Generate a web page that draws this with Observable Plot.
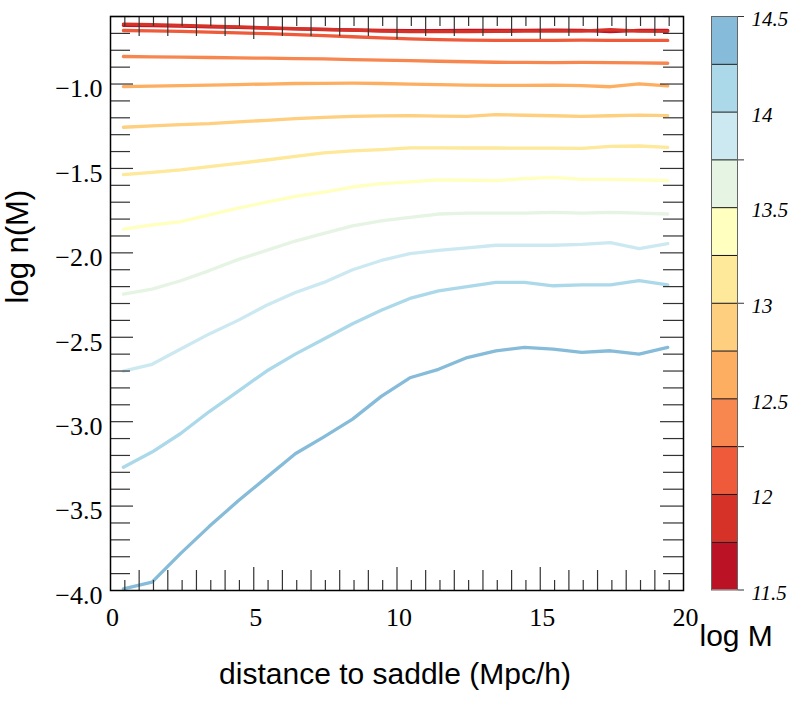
<!DOCTYPE html>
<html>
<head>
<meta charset="utf-8">
<script src="https://cdn.jsdelivr.net/npm/d3@7"></script>
<script src="https://cdn.jsdelivr.net/npm/@observablehq/plot@0.6"></script>
<style>
  html, body { margin: 0; padding: 0; background: #fff; }
  #wrap { position: relative; width: 789px; height: 701px; }
  #wrap svg { position: absolute; top: 0; }
</style>
</head>
<body>
<div id="wrap"></div>
<script>
// ---- data ----
const distance = [0.45, 1.45, 2.45, 3.45, 4.45, 5.45, 6.45, 7.45, 8.45, 9.45,
                  10.45, 11.45, 12.45, 13.45, 14.45, 15.45, 16.45, 17.45, 18.45, 19.45];

const logMEdges = [11.5, 11.75, 12.0, 12.25, 12.5, 12.75, 13.0, 13.25, 13.5, 13.75, 14.0, 14.25, 14.5];
const binColors = ["#bc1226", "#d73227", "#ee5a3a", "#f7864f", "#fdae61", "#fecf7e",
                   "#fee89a", "#ffffc0", "#e6f4e4", "#cce9f2", "#abd9e9", "#86bcd9"];

const nBin1  = [-0.652, -0.654, -0.657, -0.661, -0.665, -0.669, -0.673, -0.677, -0.680, -0.683, -0.684, -0.684, -0.683, -0.682, -0.682, -0.681, -0.682, -0.690, -0.682, -0.683];
const nBin2  = [-0.645, -0.648, -0.652, -0.657, -0.662, -0.667, -0.672, -0.676, -0.681, -0.686, -0.689, -0.690, -0.689, -0.688, -0.687, -0.686, -0.687, -0.678, -0.687, -0.688];
const nBin3  = [-0.683, -0.685, -0.688, -0.692, -0.697, -0.702, -0.707, -0.713, -0.720, -0.727, -0.733, -0.737, -0.740, -0.742, -0.741, -0.741, -0.740, -0.741, -0.742, -0.742];
const nBin4  = [-0.837, -0.839, -0.841, -0.843, -0.845, -0.847, -0.849, -0.851, -0.855, -0.858, -0.861, -0.865, -0.868, -0.871, -0.872, -0.873, -0.872, -0.873, -0.875, -0.877];
const nBin5  = [-1.015, -1.012, -1.010, -1.007, -1.003, -1.000, -0.997, -0.996, -0.995, -0.997, -1.000, -1.003, -1.007, -1.008, -1.008, -1.006, -1.010, -1.016, -0.999, -1.011];
const nBin6  = [-1.256, -1.248, -1.240, -1.234, -1.224, -1.215, -1.205, -1.197, -1.191, -1.189, -1.187, -1.190, -1.192, -1.181, -1.185, -1.188, -1.192, -1.188, -1.184, -1.187];
const nBin7  = [-1.537, -1.523, -1.509, -1.489, -1.470, -1.450, -1.428, -1.408, -1.396, -1.388, -1.378, -1.378, -1.379, -1.379, -1.380, -1.380, -1.381, -1.369, -1.367, -1.375];
const nBin8  = [-1.860, -1.835, -1.815, -1.775, -1.735, -1.700, -1.665, -1.640, -1.610, -1.590, -1.580, -1.568, -1.570, -1.572, -1.560, -1.553, -1.565, -1.565, -1.568, -1.572];
const nBin9  = [-2.245, -2.215, -2.165, -2.105, -2.040, -1.985, -1.930, -1.885, -1.840, -1.810, -1.790, -1.770, -1.765, -1.765, -1.765, -1.760, -1.765, -1.760, -1.765, -1.770];
const nBin10 = [-2.700, -2.660, -2.570, -2.480, -2.400, -2.310, -2.235, -2.175, -2.100, -2.045, -2.005, -1.985, -1.970, -1.955, -1.955, -1.955, -1.950, -1.940, -1.975, -1.945];
const nBin11 = [-3.270, -3.180, -3.070, -2.940, -2.820, -2.700, -2.600, -2.510, -2.420, -2.340, -2.270, -2.225, -2.200, -2.175, -2.175, -2.195, -2.190, -2.190, -2.165, -2.190];
const nBin12 = [-3.990, -3.950, -3.780, -3.620, -3.470, -3.330, -3.190, -3.090, -2.985, -2.850, -2.740, -2.690, -2.620, -2.580, -2.560, -2.570, -2.590, -2.580, -2.600, -2.560];

const xTickLabels = [0, 5, 10, 15, 20];
const yTickLabels = [-4.0, -3.5, -3.0, -2.5, -2.0, -1.5, -1.0];
const cbTickMarks = [14.5, 13.75, 13.0, 12.25, 11.5];
const cbTickLabels = [14.5, 14, 13.5, 13, 12.5, 12, 11.5];

// ---- build table ----
const series = [nBin1, nBin2, nBin3, nBin4, nBin5, nBin6, nBin7, nBin8, nBin9, nBin10, nBin11, nBin12];
const rows = series.flatMap((s, i) => s.map((v, j) => ({x: distance[j], y: v, bin: i})));

const W = 789, H = 701;
const mL = 110, mR = 106, mT = 16, mB = 111;
const fw = W - mL - mR, fh = H - mT - mB;

const xHalf = d3.range(0.5, 20, 1);
const xInt = d3.range(1, 20, 1).filter(d => d % 5 !== 0);
const xFive = [5, 10, 15];
const yMinor = d3.range(-39, -5, 1).map(d => d / 10).filter(d => Math.abs(d * 2 - Math.round(d * 2)) > 1e-9);
const yMajor = [-3.5, -3.0, -2.5, -2.0, -1.5, -1.0];

const tickStyle = {stroke: "#333", strokeWidth: 1.2};
const serif = "Liberation Serif, Times New Roman, serif";
const sans = "Liberation Sans, Arial, Helvetica, sans-serif";

const main = Plot.plot({
  width: W, height: H,
  marginLeft: mL, marginRight: mR, marginTop: mT, marginBottom: mB,
  style: {background: "white", color: "black", fontFamily: serif, overflow: "visible"},
  x: {domain: [0, 20]},
  y: {domain: [-4, -0.6]},
  color: {type: "ordinal", domain: d3.range(12), range: binColors},
  marks: [
    Plot.line(rows, {x: "x", y: "y", z: "bin", stroke: "bin", strokeWidth: 3.3}),
    // bottom ticks
    Plot.tickX(xHalf, {x: d => d, insetTop: fh - 10, ...tickStyle}),
    Plot.tickX(xInt, {x: d => d, insetTop: fh - 20, ...tickStyle}),
    Plot.tickX(xFive, {x: d => d, insetTop: fh - 23, ...tickStyle}),
    // top ticks
    Plot.tickX(xHalf, {x: d => d, insetBottom: fh - 10, ...tickStyle}),
    Plot.tickX(xInt, {x: d => d, insetBottom: fh - 20, ...tickStyle}),
    Plot.tickX(xFive, {x: d => d, insetBottom: fh - 23, ...tickStyle}),
    // left ticks
    Plot.tickY(yMinor, {y: d => d, insetRight: fw - 20, ...tickStyle}),
    Plot.tickY(yMajor, {y: d => d, insetRight: fw - 23, ...tickStyle}),
    // right ticks
    Plot.tickY(yMinor, {y: d => d, insetLeft: fw - 20, ...tickStyle}),
    Plot.tickY(yMajor, {y: d => d, insetLeft: fw - 23, ...tickStyle}),
    Plot.frame({stroke: "black", strokeWidth: 1.5}),
    Plot.axisX({ticks: xTickLabels, tickSize: 0, tickPadding: 17, fontSize: 26, fontFamily: serif,
                tickFormat: d => String(d), dx: 2, label: null}),
    Plot.axisY({ticks: yTickLabels, tickSize: 0, tickPadding: 8, fontSize: 26, fontFamily: serif,
                tickFormat: d3.format(".1f"), dy: 5, label: null}),
    Plot.text(["distance to saddle (Mpc/h)"], {frameAnchor: "bottom", dy: 93, lineAnchor: "bottom",
                fontSize: 30, fontFamily: sans, text: d => d, dx: -2}),
    Plot.text(["log n(M)"], {frameAnchor: "left", dx: -83, rotate: -90, lineAnchor: "bottom",
                fontSize: 31, fontFamily: sans, text: d => d, dy: 0}),
    Plot.text(["log M"], {frameAnchor: "bottom-right", dx: 16, dy: 55, textAnchor: "start", lineAnchor: "bottom",
                fontSize: 30, fontFamily: sans, text: d => d})
  ]
});
main.style.left = "0px";
document.getElementById("wrap").appendChild(main);

// ---- colorbar ----
const bins = logMEdges.slice(0, -1).map((lo, i) => ({lo, hi: logMEdges[i + 1], color: binColors[i]}));
const cbLeft = 700, cbW = 89;
const cb = Plot.plot({
  width: cbW, height: H,
  marginLeft: 11, marginRight: cbW - 11 - 26, marginTop: mT, marginBottom: H - 589.5,
  style: {background: "transparent", overflow: "visible", color: "black"},
  y: {domain: [11.5, 14.5]},
  color: {type: "identity"},
  marks: [
    Plot.rect(bins, {y1: "lo", y2: "hi", fill: "color"}),
    Plot.ruleY(logMEdges.slice(1, -1), {stroke: "#111", strokeWidth: 1}),
    Plot.frame({stroke: "#666", strokeWidth: 1}),
    Plot.axisY({anchor: "right", ticks: cbTickMarks, tickSize: 6, tickFormat: () => "", stroke: "#333", label: null}),
    Plot.text(cbTickLabels, {y: d => d, frameAnchor: "right", dx: 14, textAnchor: "start", lineAnchor: "middle", dy: 3,
              fontSize: 21, fontStyle: "italic", fontFamily: serif, text: d => String(d)})
  ]
});
cb.style.left = cbLeft + "px";
document.getElementById("wrap").appendChild(cb);
</script>
</body>
</html>
